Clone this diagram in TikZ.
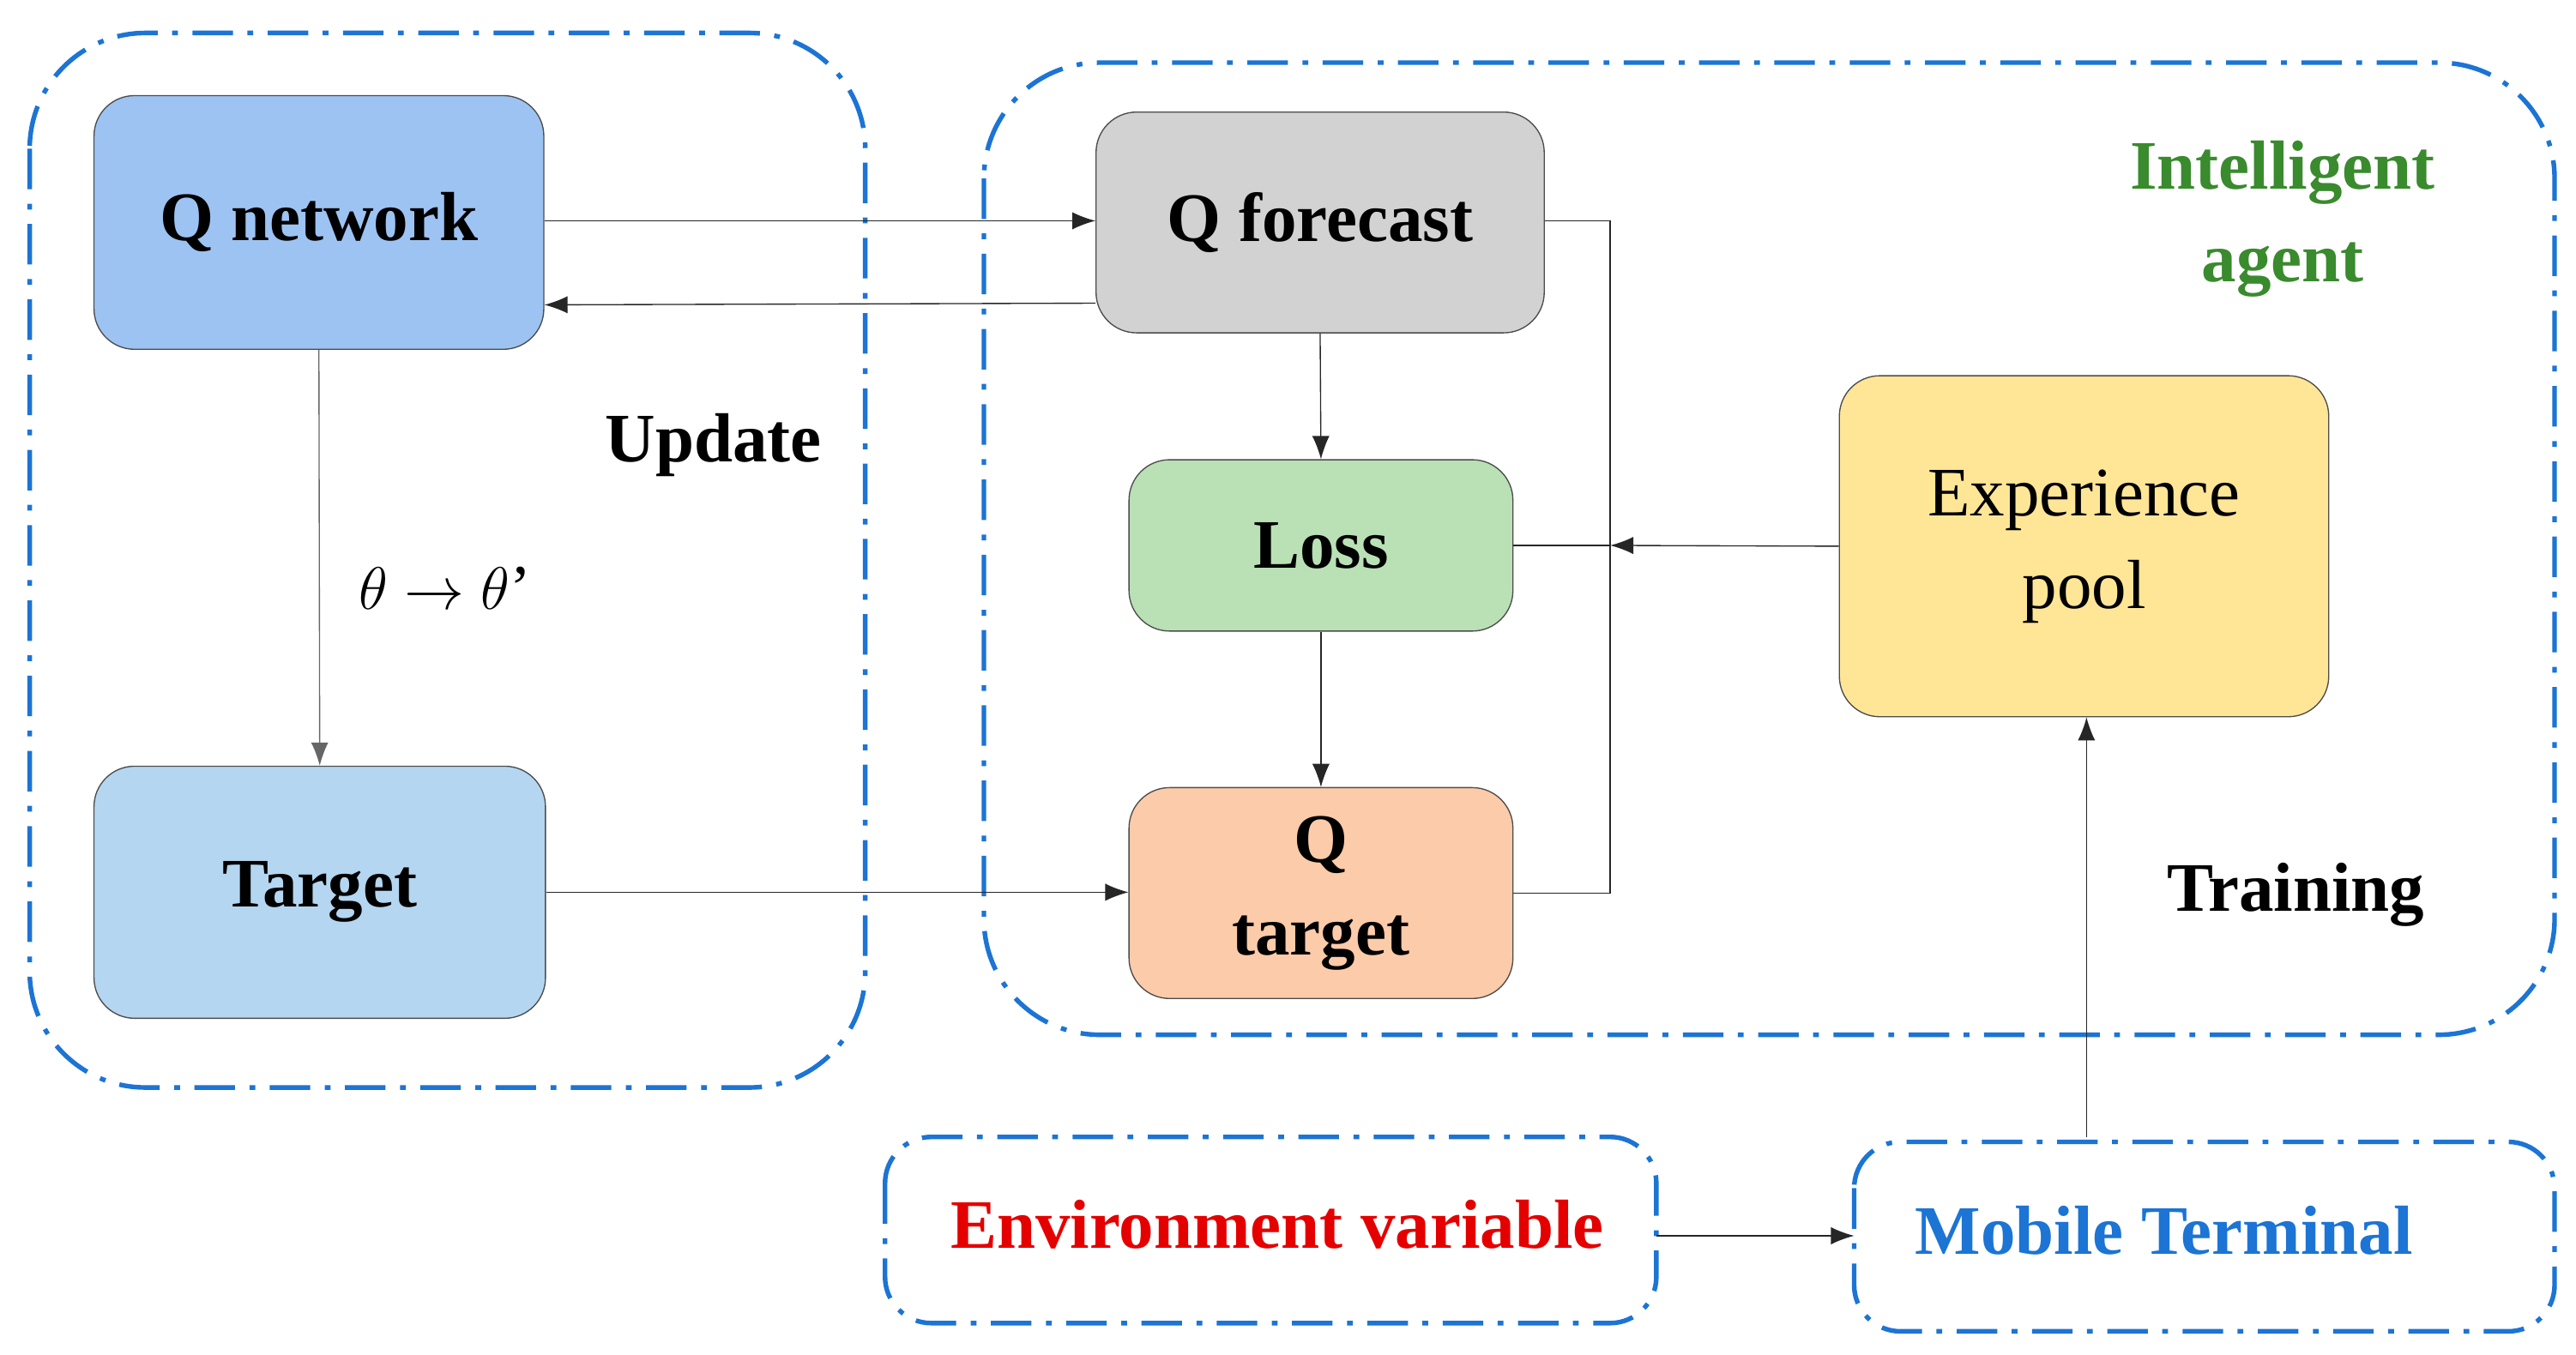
\documentclass[tikz,border=0pt]{standalone}
\usepackage{fontspec}
\setmainfont{Liberation Serif}
\usetikzlibrary{arrows.meta}
\definecolor{dashblue}{HTML}{1C74D4}
\definecolor{qnet}{HTML}{9DC3F3}
\definecolor{tgt}{HTML}{B4D6F0}
\definecolor{qfc}{HTML}{D3D2D2}
\definecolor{loss}{HTML}{B9E1B5}
\definecolor{qtg}{HTML}{FCCBA9}
\definecolor{pool}{HTML}{FFE697}
\definecolor{agent}{HTML}{3A8A2E}
\begin{document}
\begin{tikzpicture}[x=0.02cm,y=-0.02cm]
	\tikzset{box/.style = {draw=black!70, rounded corners=14pt, inner sep=0pt, align=center, font=\fontsize{24}{32}\selectfont\bfseries},
	region/.style = {draw=dashblue, line width=1.6pt, dash pattern=on 14pt off 5pt on 2pt off 5pt, rounded corners=40pt},
	arr/.style = {-{Latex[length=8pt,width=6pt]}, black!85}}

	\useasboundingbox (0,0) rectangle (1563,822);

	\draw[region] (18,20) rectangle (525,660);
	\draw[region] (597,38) rectangle (1550,628);
	\draw[region, rounded corners=16pt] (537,690) rectangle (1005,803);
	\draw[region, rounded corners=16pt] (1125,693) rectangle (1550,808);

	\node[box, fill=qnet, minimum width=5.46cm, minimum height=3.08cm] (QN) at (193.5,135) {Q network};
	\node[box, fill=tgt, minimum width=5.48cm, minimum height=3.06cm] (T) at (194,541.5) {Target};
	\node[box, fill=qfc, minimum width=5.44cm, minimum height=2.68cm] (QF) at (801,135) {Q forecast};
	\node[box, fill=loss, minimum width=4.66cm, minimum height=2.08cm] (L) at (801.5,331) {Loss};
	\node[box, fill=qtg, minimum width=4.66cm, minimum height=2.56cm] (QT) at (801.5,542) {Q\\target};
	\node[box, fill=pool, minimum width=5.94cm, minimum height=4.14cm, font=\fontsize{24}{32}\selectfont] (EP) at (1264.5,331.5) {Experience\\pool};

	\node[font=\fontsize{24}{28}\selectfont\bfseries] (UP) at (433,270) {Update};
	\node[font=\fontsize{22}{28}\selectfont] (TH) at (270,357) {$\theta\rightarrow\theta$'};
	\node[font=\fontsize{24}{32}\selectfont\bfseries, text=agent, align=center] (IA) at (1385,133) {Intelligent\\agent};
	\node[font=\fontsize{24}{28}\selectfont\bfseries] (TR) at (1393,543) {Training};
	\node[font=\fontsize{24}{28}\selectfont\bfseries, text=red!90!black] (EV) at (775,743) {Environment variable};
	\node[font=\fontsize{24}{28}\selectfont\bfseries, text=dashblue] (MT) at (1313,747) {Mobile Terminal};

	\coordinate (J) at (977,331);
	\coordinate (EVr) at (1005,750);
	\coordinate (MTl) at (1125,750);
	\coordinate (MTt) at (1266,690);

	\draw[arr] (QN.east |- 0,134) -- (QF.west |- 0,134);
	\draw[arr] (QF.west |- 0,184) -- (QN.east |- 0,185);
	\draw[arr, black!60] (QN.south) -- (T.north);
	\draw[arr] (T.east) -- (QT.west |- T.east);
	\draw[arr] (QF.south) -- (L.north);
	\draw[arr] (L.south) -- (QT.north);
	\draw[black!85] (QF.east |- 0,134) -| (J) |- (QT.east);
	\draw[black!85] (L.east) -- (J);
	\draw[arr] (EP.west) -- (J);
	\draw[arr] (MTt) -- (EP.south -| MTt);
	\draw[arr] (EVr) -- (MTl);

\end{tikzpicture}
\end{document}
